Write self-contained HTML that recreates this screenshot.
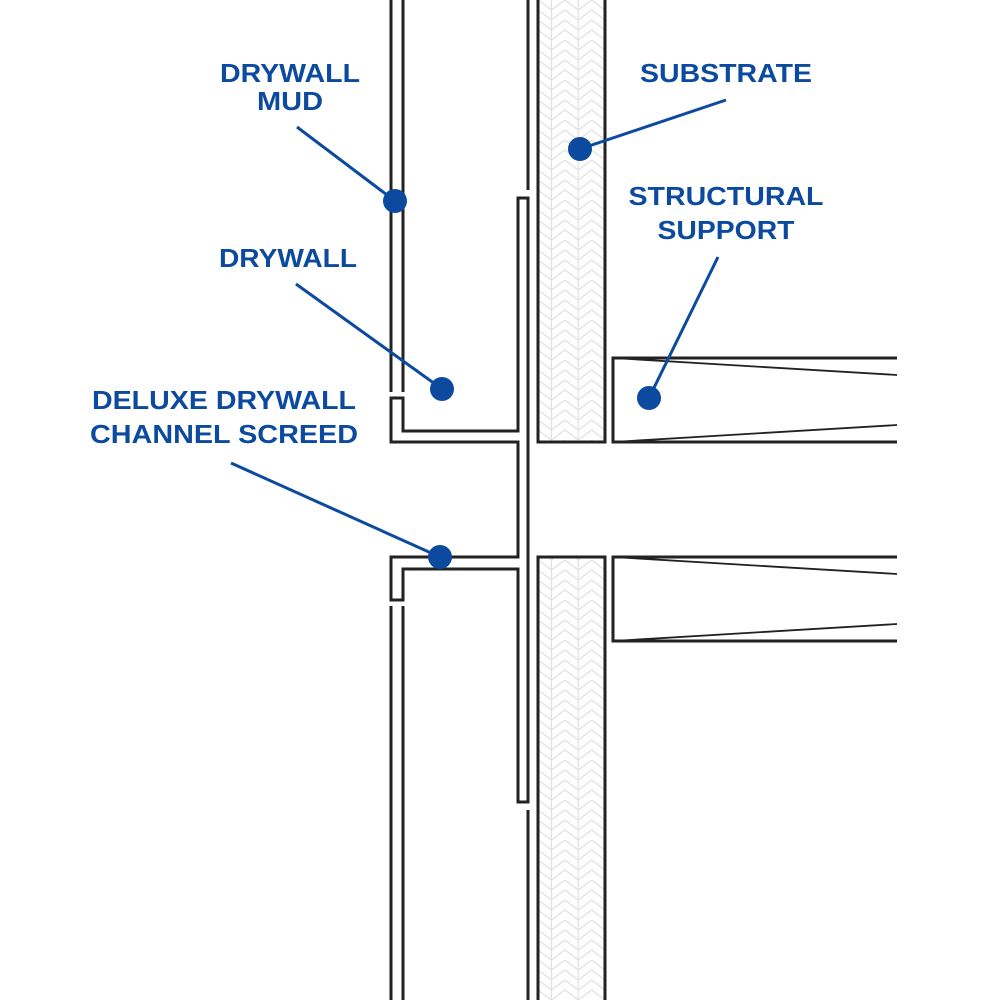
<!DOCTYPE html>
<html><head><meta charset="utf-8"><style>
html,body{margin:0;padding:0;background:#fff;}
svg{display:block}
text{font-family:"Liberation Sans",Arial,sans-serif;font-weight:bold;font-size:26px;fill:#0b4a9e;text-anchor:middle}
</style></head><body>
<svg width="1000" height="1000" viewBox="0 0 1000 1000" xmlns="http://www.w3.org/2000/svg">
<defs>
<pattern id="hb" x="538" y="0" width="26.8" height="20" patternUnits="userSpaceOnUse">
<g stroke="#e0e0e0" stroke-width="1.2" fill="none">
<line x1="13.4" y1="0" x2="13.4" y2="20"/>
<line x1="0" y1="0" x2="13.4" y2="10"/>
<line x1="0" y1="10" x2="13.4" y2="20"/>
<line x1="0" y1="-10" x2="13.4" y2="0"/>
<line x1="26.8" y1="0" x2="13.4" y2="10"/>
<line x1="26.8" y1="10" x2="13.4" y2="20"/>
<line x1="26.8" y1="-10" x2="13.4" y2="0"/>
</g>
</pattern>
</defs>
<rect x="538" y="-5" width="67" height="447" fill="url(#hb)" stroke="#222" stroke-width="3"/>
<rect x="538" y="557" width="67" height="450" fill="url(#hb)" stroke="#222" stroke-width="3"/>
<g stroke="#222" stroke-width="3" fill="none">
<line x1="391" y1="0" x2="391" y2="392"/>
<line x1="403" y1="0" x2="403" y2="392"/>
<line x1="391" y1="606" x2="391" y2="1000"/>
<line x1="403" y1="606" x2="403" y2="1000"/>
<line x1="528" y1="0" x2="528" y2="190"/>
<line x1="528" y1="810" x2="528" y2="1000"/>
<path d="M518,198 L528,198 L528,802 L518,802 L518,569 L403,569 L403,600 L391,600 L391,557 L518,557 L518,442 L391,442 L391,398 L403,398 L403,431 L518,431 Z" stroke-linejoin="miter"/>
<path d="M897,358 L613,358 L613,442 L897,442"/>
<path d="M897,557 L613,557 L613,641 L897,641"/>
</g>
<g stroke="#222" stroke-width="1.8" fill="none">
<line x1="613" y1="358" x2="897" y2="375"/>
<line x1="613" y1="442" x2="897" y2="425"/>
<line x1="613" y1="557" x2="897" y2="574"/>
<line x1="613" y1="641" x2="897" y2="624"/>
</g>
<g stroke="#0b4a9e" stroke-width="3" fill="#0b4a9e">
<line x1="297" y1="127" x2="395" y2="201"/>
<line x1="726" y1="100" x2="580" y2="149"/>
<line x1="718" y1="257" x2="649" y2="398"/>
<line x1="296" y1="284" x2="442" y2="389"/>
<line x1="231" y1="463" x2="440" y2="557"/>
<circle cx="395" cy="201" r="12" stroke="none"/>
<circle cx="580" cy="149" r="12" stroke="none"/>
<circle cx="649" cy="398" r="12" stroke="none"/>
<circle cx="442" cy="389" r="12" stroke="none"/>
<circle cx="440" cy="557" r="12" stroke="none"/>
</g>
<text x="290" y="82" textLength="140" lengthAdjust="spacingAndGlyphs">DRYWALL</text>
<text x="290" y="110" textLength="66" lengthAdjust="spacingAndGlyphs">MUD</text>
<text x="726" y="82" textLength="172" lengthAdjust="spacingAndGlyphs">SUBSTRATE</text>
<text x="726" y="205" textLength="195" lengthAdjust="spacingAndGlyphs">STRUCTURAL</text>
<text x="726" y="239" textLength="137" lengthAdjust="spacingAndGlyphs">SUPPORT</text>
<text x="288" y="267" textLength="138" lengthAdjust="spacingAndGlyphs">DRYWALL</text>
<text x="224" y="409" textLength="264" lengthAdjust="spacingAndGlyphs">DELUXE DRYWALL</text>
<text x="224" y="443" textLength="268" lengthAdjust="spacingAndGlyphs">CHANNEL SCREED</text>
</svg>
</body></html>
